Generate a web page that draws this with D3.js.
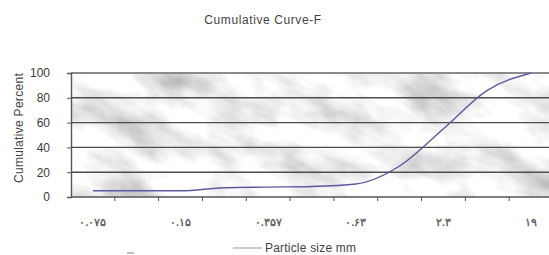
<!DOCTYPE html>
<html>
<head>
<meta charset="utf-8">
<script src="https://cdn.jsdelivr.net/npm/d3@7/dist/d3.min.js"></script>
<style>
  body { margin: 0; background: #fff; }
  text { font-family: "Liberation Sans", Arial, sans-serif; }
</style>
</head>
<body>
<svg id="chart" width="549" height="255"></svg>
<script>
// sieve sizes (only every second one gets a label, like the original)
const categories = ["۰.۰۷۵", "۰.۱", "۰.۱۵", "۰.۲", "۰.۳۵۷", "۰.۵", "۰.۶۳", "۱.۱۸", "۲.۳", "۴.۷۵", "۱۹"];
const cumPercent = [5, 5, 5, 7.5, 8, 8.5, 10.5, 25, 55, 86, 100];
const yTicks = [0, 20, 40, 60, 80, 100];

const svg = d3.select("#chart");
const margin = { top: 73, left: 71, bottom: 197, right: 553 };

const xScale = d3.scaleBand()
  .domain(categories)
  .range([margin.left, margin.right])
  .paddingInner(0).paddingOuter(0);

const yScale = d3.scaleLinear()
  .domain([0, 100])
  .range([margin.bottom, margin.top]);

const defs = svg.append("defs");

// marble-ish background via noise filter
const filter = defs.append("filter").attr("id", "marble")
  .attr("x", 0).attr("y", 0).attr("width", 1).attr("height", 1);
filter.append("feTurbulence")
  .attr("type", "fractalNoise")
  .attr("baseFrequency", "0.016 0.032")
  .attr("numOctaves", 4)
  .attr("seed", 11);
filter.append("feColorMatrix")
  .attr("type", "matrix")
  .attr("values", "0.95 0 0 0 0.42  0.95 0 0 0 0.42  0.95 0 0 0 0.42  0 0 0 0 1");

defs.append("clipPath").attr("id", "plotClip")
  .append("rect")
  .attr("x", margin.left).attr("y", margin.top)
  .attr("width", margin.right - margin.left)
  .attr("height", margin.bottom - margin.top);

const bg = svg.append("g").attr("clip-path", "url(#plotClip)");
bg.append("g")
  .attr("transform", `rotate(25 ${(margin.left + margin.right) / 2} ${(margin.top + margin.bottom) / 2})`)
  .append("rect")
  .attr("x", margin.left - 150).attr("y", margin.top - 250)
  .attr("width", margin.right - margin.left + 300)
  .attr("height", 620)
  .attr("filter", "url(#marble)");

// gridlines
svg.append("g")
  .selectAll("line")
  .data(yTicks.filter(d => d > 0))
  .join("line")
  .attr("x1", margin.left).attr("x2", margin.right)
  .attr("y1", d => yScale(d)).attr("y2", d => yScale(d))
  .attr("stroke", d => d === 100 ? "#8a8a8a" : "#4d4d4d")
  .attr("stroke-width", d => d === 100 ? 2 : 1.4);

// y axis
const yAxis = d3.axisLeft(yScale).tickValues(yTicks).tickSize(4).tickPadding(17);
const yG = svg.append("g").attr("transform", `translate(${margin.left},0)`).call(yAxis);
yG.select(".domain").attr("stroke", "#555").attr("stroke-width", 1.4);
yG.selectAll(".tick line").attr("stroke", "#555");
yG.selectAll("text").attr("font-size", 12).attr("fill", "#3a3a3a");

// x axis: ticks between categories, labels on every second category
const xG = svg.append("g");
xG.append("line")
  .attr("x1", margin.left).attr("x2", margin.right)
  .attr("y1", margin.bottom).attr("y2", margin.bottom)
  .attr("stroke", "#555").attr("stroke-width", 1.4);
xG.selectAll(".tk")
  .data(categories.slice(1))
  .join("line")
  .attr("class", "tk")
  .attr("x1", d => xScale(d)).attr("x2", d => xScale(d))
  .attr("y1", margin.bottom).attr("y2", margin.bottom + 4)
  .attr("stroke", "#555");
xG.selectAll(".lbl")
  .data(categories.filter((d, i) => i % 2 === 0))
  .join("text")
  .attr("class", "lbl")
  .attr("x", d => xScale(d) + xScale.bandwidth() / 2)
  .attr("y", 226)
  .attr("text-anchor", "middle")
  .attr("font-family", "DejaVu Sans")
  .attr("font-size", 11)
  .attr("font-weight", "bold")
  .attr("letter-spacing", 1.5)
  .attr("fill", "#666")
  .text(d => d);

// curve
const line = d3.line()
  .x((d, i) => xScale(categories[i]) + xScale.bandwidth() / 2)
  .y(d => yScale(d))
  .curve(d3.curveMonotoneX);

svg.append("path")
  .datum(cumPercent)
  .attr("d", line)
  .attr("fill", "none")
  .attr("stroke", "#5a5aa0")
  .attr("stroke-width", 1.4);

// titles
svg.append("text")
  .attr("x", 263).attr("y", 24)
  .attr("text-anchor", "middle")
  .attr("font-size", 12)
  .attr("letter-spacing", 0.6)
  .attr("fill", "#444")
  .text("Cumulative Curve-F");

svg.append("text")
  .attr("transform", `translate(23,${(margin.top + margin.bottom) / 2 - 7}) rotate(-90)`)
  .attr("text-anchor", "middle")
  .attr("font-size", 12)
  .attr("letter-spacing", 0.3)
  .attr("fill", "#444")
  .text("Cumulative Percent");

svg.append("text")
  .attr("x", 265).attr("y", 252)
  .attr("font-size", 12)
  .attr("letter-spacing", 0.2)
  .attr("fill", "#444")
  .text("Particle size mm");

// leftover legend strokes under the axis
svg.append("line")
  .attr("x1", 233).attr("x2", 262).attr("y1", 248).attr("y2", 248)
  .attr("stroke", "#999").attr("stroke-width", 1);
svg.append("line")
  .attr("x1", 127).attr("x2", 134).attr("y1", 253).attr("y2", 253)
  .attr("stroke", "#aaa").attr("stroke-width", 1.5);
</script>
</body>
</html>
